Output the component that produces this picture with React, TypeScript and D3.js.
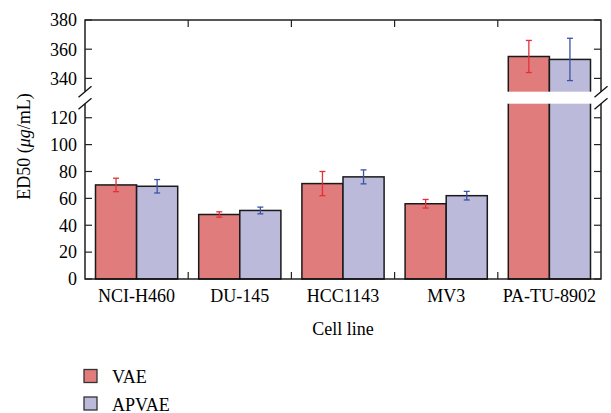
import React from "react"
import * as d3 from "d3"

const categories = ["NCI-H460", "DU-145", "HCC1143", "MV3", "PA-TU-8902"]
const seriesNames = ["VAE", "APVAE"]
const vaeValues = [70, 48, 71, 56, 355]
const vaeErrors = [5, 2, 9, 3.2, 11]
const apvaeValues = [69, 51, 76, 62, 353]
const apvaeErrors = [5, 2.5, 5.2, 3.2, 14.5]
const lowerTicks = [0, 20, 40, 60, 80, 100, 120]
const upperTicks = [340, 360, 380]

const fills = ["#e17c7c", "#bbbadb"]
const errColors = ["#e0313b", "#3a53a6"]

const W = 611
const H = 413
const left = 85
const right = 601
const top = 20
const bottom = 279
const gapTop = 91.7
const gapBottom = 103.7
const font = "'Liberation Serif', 'Times New Roman', serif"

const App = () => {
    const x0 = d3.scaleBand().domain(categories).range([left, right])
    const x1 = d3.scaleBand().domain(seriesNames)
        .range([10.5, x0.bandwidth() - 10.5])
    const yLow = d3.scaleLinear().domain([0, 130]).range([bottom, 104.3])
    const yHigh = d3.scaleLinear().domain([330, 380]).range([93, top])

    const rows = categories.map((c, i) => [
        {cat: c, s: 0, v: vaeValues[i], e: vaeErrors[i]},
        {cat: c, s: 1, v: apvaeValues[i], e: apvaeErrors[i]},
    ]).flat()

    const isHigh = (v: number) => v > 130

    return (
        <svg width={W} height={H} style={{position: "absolute", left: 0, top: 0}}
             fontFamily={font}>
            {/* bars */}
            {rows.map((d, i) => {
                const bx = (x0(d.cat) as number) + (x1(seriesNames[d.s]) as number)
                const bw = x1.bandwidth()
                if (isHigh(d.v)) {
                    const yt = yHigh(d.v)
                    return (
                        <g key={i}>
                            <rect x={bx} y={yt} width={bw} height={100 - yt}
                                  fill={fills[d.s]} stroke="#1a1a1a" strokeWidth={1.5}/>
                            <rect x={bx} y={95} width={bw} height={bottom - 95}
                                  fill={fills[d.s]} stroke="#1a1a1a" strokeWidth={1.5}/>
                        </g>
                    )
                }
                const yt = yLow(d.v)
                return <rect key={i} x={bx} y={yt} width={bw} height={bottom - yt}
                             fill={fills[d.s]} stroke="#1a1a1a" strokeWidth={1.5}/>
            })}

            {/* frame */}
            <rect x={left} y={top} width={right - left} height={bottom - top}
                  fill="none" stroke="#111" strokeWidth={1.4}/>

            {/* break band */}
            <rect x={left - 3} y={gapTop} width={right - left + 6} height={gapBottom - gapTop}
                  fill="white"/>
            {[left, right].map(ax => [gapTop, gapBottom].map(gy => (
                <line key={`${ax}-${gy}`} x1={ax - 6.5} y1={gy + 5.5} x2={ax + 6.5} y2={gy - 5.5}
                      stroke="#111" strokeWidth={1.3}/>
            )))}

            {/* error bars */}
            {rows.map((d, i) => {
                const cx = (x0(d.cat) as number) + (x1(seriesNames[d.s]) as number) + x1.bandwidth() / 2
                const y = isHigh(d.v) ? yHigh : yLow
                const y1 = y(d.v + d.e)
                const y2 = y(d.v - d.e)
                return (
                    <g key={i} stroke={errColors[d.s]} strokeWidth={1.3}>
                        <line x1={cx} x2={cx} y1={y1} y2={y2}/>
                        <line x1={cx - 3} x2={cx + 3} y1={y1} y2={y1}/>
                        <line x1={cx - 3} x2={cx + 3} y1={y2} y2={y2}/>
                    </g>
                )
            })}

            {/* category divider ticks */}
            {categories.slice(1).map(c => {
                const tx = x0(c) as number
                return (
                    <g key={c} stroke="#222" strokeWidth={1.2}>
                        <line x1={tx} x2={tx} y1={top} y2={top + 7}/>
                        <line x1={tx} x2={tx} y1={bottom} y2={bottom - 7}/>
                    </g>
                )
            })}

            {/* y ticks */}
            {lowerTicks.map(t => (
                <g key={t}>
                    <line x1={left} x2={left + 7} y1={yLow(t)} y2={yLow(t)} stroke="#222" strokeWidth={1.2}/>
                    <line x1={right} x2={right - 7} y1={yLow(t)} y2={yLow(t)} stroke="#222" strokeWidth={1.2}/>
                    <text x={77} y={yLow(t)} dy="0.35em" textAnchor="end" fontSize={18}>{t}</text>
                </g>
            ))}
            {upperTicks.map(t => (
                <g key={t}>
                    <line x1={left} x2={left + 7} y1={yHigh(t)} y2={yHigh(t)} stroke="#222" strokeWidth={1.2}/>
                    <line x1={right} x2={right - 7} y1={yHigh(t)} y2={yHigh(t)} stroke="#222" strokeWidth={1.2}/>
                    <text x={77} y={yHigh(t)} dy="0.35em" textAnchor="end" fontSize={18}>{t}</text>
                </g>
            ))}

            {/* category labels */}
            {categories.map(c => (
                <text key={c} x={(x0(c) as number) + x0.bandwidth() / 2} y={302}
                      textAnchor="middle" fontSize={18}>{c}</text>
            ))}
            <text x={(left + right) / 2} y={335} textAnchor="middle" fontSize={18}>Cell line</text>

            {/* y title */}
            <text transform={`translate(30, 146.5) rotate(-90)`} textAnchor="middle" fontSize={18}>
                ED50 (<tspan fontStyle="italic">μg</tspan>/mL)
            </text>

            {/* legend */}
            {seriesNames.map((s, i) => (
                <g key={s}>
                    <rect x={84} y={369.5 + i * 27.5} width={13} height={13} fill={fills[i]}
                          stroke="#333" strokeWidth={1.3}/>
                    <text x={112} y={383 + i * 27.5} fontSize={18}>{s}</text>
                </g>
            ))}
        </svg>
    )
}

export default App
